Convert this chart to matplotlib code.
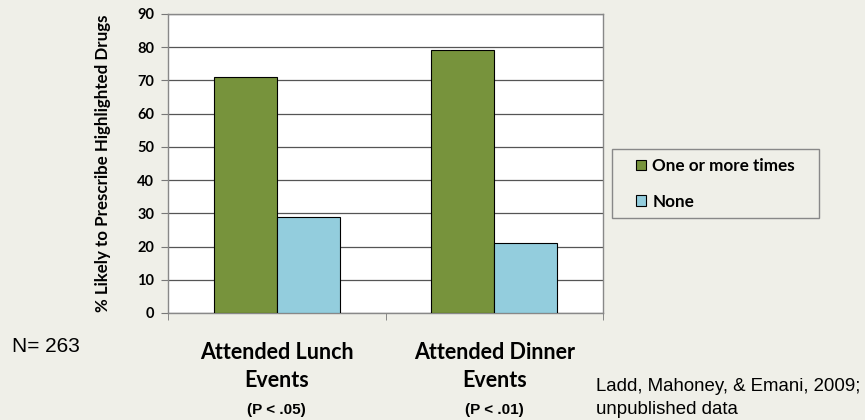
import matplotlib.pyplot as plt
from matplotlib.patches import Rectangle
import numpy as np

# Datos
categorias = ['Attended Lunch\nEvents', 'Attended Dinner\nEvents']
p_valores = ['(P < .05)', '(P < .01)']
una_o_mas = [71, 79]
ninguna = [29, 21]
series = ['One or more times', 'None']

fondo = '#EFEFE8'
verde = '#77933C'
azul = '#93CDDD'

fig = plt.figure(figsize=(8.65, 4.2), dpi=100, facecolor=fondo)
ax = fig.add_axes([0.1942, 0.2548, 0.503, 0.712])
ax.set_facecolor('white')

x = np.arange(len(categorias))
w = 0.29
ax.bar(x - w / 2, una_o_mas, w, color=verde, edgecolor='black', linewidth=0.8,
       label=series[0], zorder=3)
ax.bar(x + w / 2, ninguna, w, color=azul, edgecolor='black', linewidth=0.8,
       label=series[1], zorder=3)

ax.set_xlim(-0.5, 1.5)
ax.set_ylim(0, 90)
ax.set_yticks(range(0, 91, 10))
ax.yaxis.grid(True, color='#555555', linewidth=0.9, zorder=0)
ax.tick_params(axis='y', direction='out', length=5, color='#777777', pad=5)
for lab in ax.get_yticklabels():
    lab.set_fontfamily('Lato')
    lab.set_fontweight('bold')
    lab.set_fontsize(10.5)

ax.set_xticks(x)
ax.set_xticklabels(categorias, fontfamily='Lato', fontweight='bold', fontsize=15.5,
                   linespacing=1.4)
ax.tick_params(axis='x', length=0, pad=21)
ax.set_xticks([-0.5, 0.5, 1.5], minor=True)
ax.tick_params(axis='x', which='minor', direction='out', length=5, color='#777777')

for s in ax.spines.values():
    s.set_color('#888888')
    s.set_linewidth(1.0)

ax.set_ylabel('% Likely to Prescribe Highlighted Drugs', fontfamily='Lato',
              fontweight='bold', fontsize=12.2, labelpad=19)

for xi, p in zip(x, p_valores):
    ax.text(xi, -0.325, p, transform=ax.get_xaxis_transform(), ha='center', va='center',
            fontfamily='Liberation Sans', fontweight='bold', fontsize=11)

# caja de la leyenda
fig.patches.append(Rectangle((612 / 865, 1 - 218 / 420), 207 / 865, 69 / 420,
                             transform=fig.transFigure, facecolor=fondo,
                             edgecolor='#888888', linewidth=1.0))
leg = fig.legend(loc='upper left', bbox_to_anchor=(636 / 865, 1 - 158 / 420),
                 prop={'family': 'Lato', 'weight': 'bold', 'size': 12.3},
                 frameon=False, handlelength=0.6, handleheight=0.6, handletextpad=0.35,
                 borderpad=0, labelspacing=1.15, borderaxespad=0)

fig.text(12 / 865, 1 - 347 / 420, 'N= 263', fontfamily='Liberation Sans', fontsize=15,
         va='center', ha='left')
fig.text(596 / 865, 1 - 398 / 420, 'Ladd, Mahoney, & Emani, 2009;\nunpublished data',
         fontfamily='Liberation Sans', fontsize=13.4, va='center', ha='left',
         linespacing=1.45)

plt.savefig('out.png', dpi=100, facecolor=fondo)
